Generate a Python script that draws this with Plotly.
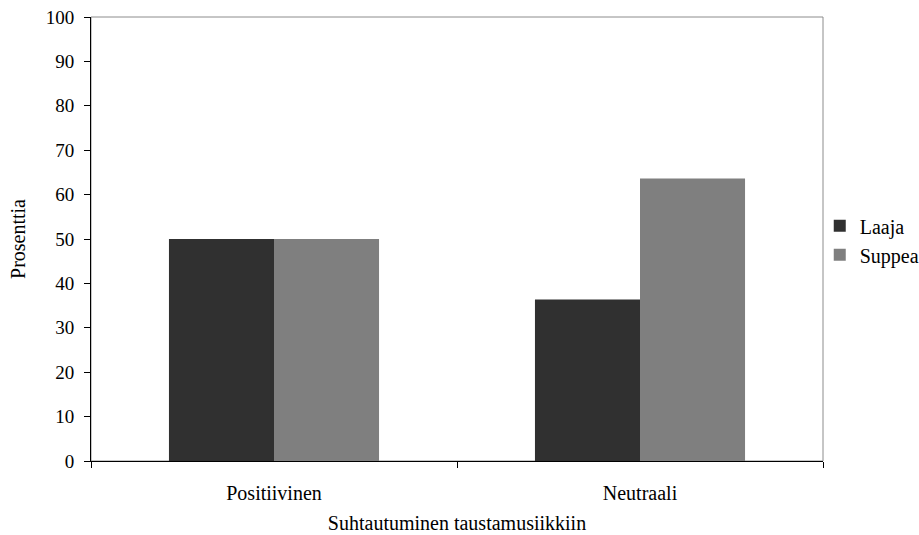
import plotly.graph_objects as go

categories = ["Positiivinen", "Neutraali"]
laaja = [50.0, 36.4]
suppea = [50.0, 63.6]
y_ticks = [0, 10, 20, 30, 40, 50, 60, 70, 80, 90, 100]

FONT = "Liberation Serif, Times New Roman, serif"

fig = go.Figure()
fig.add_trace(go.Bar(x=categories, y=laaja, name="Laaja",
                     marker=dict(color="#303030", line=dict(width=0))))
fig.add_trace(go.Bar(x=categories, y=suppea, name="Suppea",
                     marker=dict(color="#7f7f7f", line=dict(width=0))))

fig.update_layout(
    width=919, height=535,
    margin=dict(l=91, r=96, t=17, b=74, autoexpand=False),
    paper_bgcolor="white", plot_bgcolor="white",
    barmode="group", bargap=0.426, bargroupgap=0,
    font=dict(family=FONT, size=20, color="black"),
    showlegend=True,
    legend=dict(x=0.892, y=0.551, xref="container", yref="container",
                xanchor="left", yanchor="middle",
                font=dict(family=FONT, size=20, color="black"),
                itemwidth=30, tracegroupgap=2, bgcolor="rgba(0,0,0,0)"),
    shapes=[dict(type="rect", xref="paper", yref="paper", x0=0, x1=1, y0=0, y1=1,
                 line=dict(color="#8c8c8c", width=1), layer="below")],
)
fig.update_xaxes(
    type="category", showline=True, linecolor="black", linewidth=1,
    ticks="outside", tickson="boundaries", ticklen=6, tickcolor="black",
    showgrid=False, ticklabelstandoff=14, automargin=False,
    tickfont=dict(size=20),
    title=dict(text="Suhtautuminen taustamusiikkiin", font=dict(size=20), standoff=12),
)
fig.update_yaxes(
    range=[0, 100], tickvals=y_ticks, showline=True, linecolor="black", linewidth=1,
    ticks="outside", ticklen=6, tickcolor="black", showgrid=False, zeroline=False,
    ticklabelstandoff=6, automargin=False,
    tickfont=dict(size=19),
    title=dict(text="Prosenttia", font=dict(size=20), standoff=14),
)

fig.write_html("out.html", config={"displayModeBar": False},
               post_script="document.body.style.margin='0px';")
